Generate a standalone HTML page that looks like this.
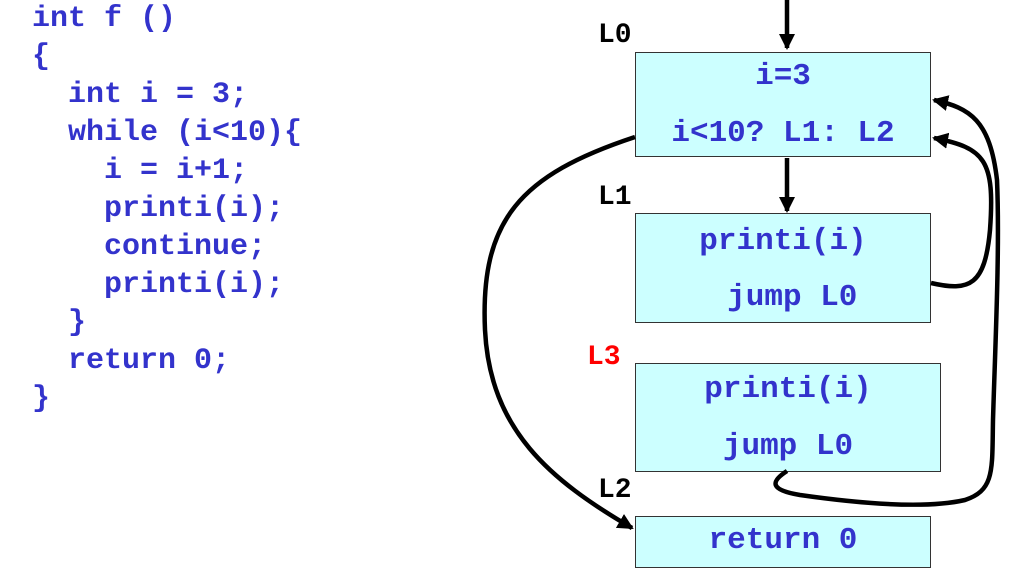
<!DOCTYPE html>
<html><head><style>
body{margin:0;width:1019px;height:579px;background:#fff;overflow:hidden;position:relative;font-family:"Liberation Mono",monospace;font-weight:bold}
.code{position:absolute;left:32px;top:0;color:#3333cc;font-size:30px;line-height:38px;white-space:pre;margin:0;font-family:"Liberation Mono",monospace;font-weight:bold}
.box{position:absolute;background:#ccffff;border:1.5px solid #333;box-sizing:border-box;color:#3333cc;font-size:31px;text-align:center;white-space:pre}
.lbl{position:absolute;font-size:28px;color:#000}
</style></head><body>
<pre class="code" style="top:0">int f ()
{
  int i = 3;
  while (i&lt;10){
    i = i+1;
    printi(i);
    continue;
    printi(i);
  }
  return 0;
}</pre>
<div class="lbl" style="left:598px;top:20px">L0</div>
<div class="lbl" style="left:598px;top:182px">L1</div>
<div class="lbl" style="left:587px;top:342px;color:#f00">L3</div>
<div class="lbl" style="left:598px;top:475px">L2</div>
<div class="box" style="left:635px;top:52px;width:296px;height:105px"><div style="position:absolute;top:6px;width:100%">i=3</div><div style="position:absolute;top:63px;width:100%">i&lt;10? L1: L2</div></div>
<div class="box" style="left:635px;top:213px;width:296px;height:110px"><div style="position:absolute;top:10px;width:100%">printi(i)</div><div style="position:absolute;top:66px;width:100%"> jump L0</div></div>
<div class="box" style="left:635px;top:363px;width:306px;height:109px"><div style="position:absolute;top:8px;width:100%">printi(i)</div><div style="position:absolute;top:65px;width:100%">jump L0</div></div>
<div class="box" style="left:635px;top:516px;width:296px;height:52px"><div style="position:absolute;top:6px;width:100%">return 0</div></div>
<svg width="1019" height="579" style="position:absolute;left:0;top:0" fill="none" stroke="#000" stroke-width="4.5">
<defs>
<marker id="b" markerWidth="16" markerHeight="16" refX="14" refY="8" orient="auto" markerUnits="userSpaceOnUse"><path d="M0,0 L16,8 L0,16 z" fill="#000" stroke="none"/></marker></defs>
<path d="M787 0 L787 48" marker-end="url(#b)"/>
<path d="M787 158 L787 211" marker-end="url(#b)"/>
<path d="M635 137 C520 175 480 220 485 330 C490 430 550 480 632 528" marker-end="url(#b)"/>
<path d="M931 283 C970 292 985 285 990 230 C995 160 985 148 934 138" marker-end="url(#b)"/>
<path d="M787 471 C770 482 770 490 800 495 C870 505 930 508 965 500 C995 490 992 470 993 420 C995 350 1000 250 997 180 C990 120 970 108 934 100" marker-end="url(#b)"/>
</svg>
</body></html>
